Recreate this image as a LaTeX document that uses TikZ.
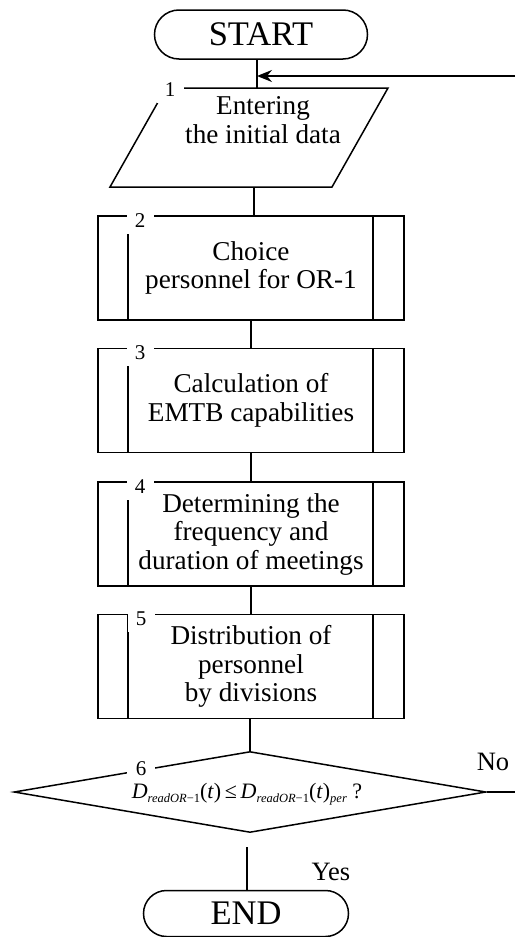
\documentclass[tikz,border=0pt]{standalone}
\usepackage{fontspec}
\setmainfont{Liberation Serif}
\usetikzlibrary{shapes.misc,shapes.geometric,arrows.meta}
\newcommand\mysub[1]{\raisebox{-4.5pt}{\fontsize{12.5}{12.5}\selectfont #1}}
\begin{document}
\begin{tikzpicture}[x=1pt,y=-1pt, line width=1.5pt,
  term/.style={rounded rectangle, draw, minimum width=213pt, minimum height=49pt,
    font=\fontsize{34.5}{36}\selectfont, inner sep=0pt, outer sep=0pt},
  body/.style={font=\fontsize{27.2}{28.5}\selectfont, align=center},
  proc/.style={rectangle, draw, minimum width=306pt, minimum height=104pt,
    inner sep=0pt, outer sep=0pt, body},
  num/.style={fill=white, font=\fontsize{21}{21}\selectfont, inner sep=0pt,
    minimum width=27pt, minimum height=26pt},
  lbl/.style={font=\fontsize{26.5}{28}\selectfont, inner sep=0pt}]
\useasboundingbox (0,0) rectangle (515,937);

% START
\node[term] (start) at (261,34.5) {START};
\coordinate (j1) at (257,76);
\coordinate (p1top) at (257,88);
\draw (j1 |- start.south) -- (p1top);
\coordinate (loopR) at (515,76);
\draw[-{Stealth[length=15pt,width=12pt,inset=5pt]}] (loopR) -- (j1);

% 1: parallelogram
\coordinate (pa) at (166,88);
\coordinate (pb) at (388,88);
\coordinate (pc) at (332,187);
\coordinate (pd) at (110,187);
\draw (pa) -- (pb) -- (pc) -- (pd) -- cycle;
\node[body] (p1) at (263,120) {Entering\\the initial data};
\node[num] (n1) at (170,90) {1};
\coordinate (p1bot) at (254,187);

% processes
\node[proc] (b2) at (251,268) {Choice\\personnel for OR-1};
\node[proc] (b3) at (251,400.5) {Calculation of\\EMTB capabilities};
\node[proc] (b4) at (251,534) {Determining the\\frequency and\\duration of meetings};
\node[proc] (b5) at (251,666.5) {Distribution of\\personnel\\by divisions};
\foreach \b in {b2,b3,b4,b5}{
  \draw ([xshift=30pt]\b.north west) -- ([xshift=30pt]\b.south west);
  \draw ([xshift=-31pt]\b.north east) -- ([xshift=-31pt]\b.south east);
}
\node[num] (n2) at (140,221) {2};
\node[num] (n3) at (140,353) {3};
\node[num] (n4) at (140,487) {4};
\node[num] (n5) at (141,619) {5};

\draw (p1bot) -- (p1bot |- b2.north);
\draw (b2.south) -- (b3.north);
\draw (b3.south) -- (b4.north);
\draw (b4.south) -- (b5.north);

% 6: decision
\node[diamond, draw, minimum width=472pt, minimum height=81pt, inner sep=0pt] (d6) at (250,792) {};
\draw (d6.north |- b5.south) -- (d6.north);
\node[num, minimum width=28pt, minimum height=16pt] (n6) at (141,768.5) {6};
\node[font=\fontsize{22}{24}\selectfont, inner sep=0pt, anchor=base] (f6) at (247,798)
  {\textit{D}\mysub{\textit{readOR}−1}(\textit{t})\,≤\,\textit{D}\mysub{\textit{readOR}−1}(\textit{t})\mysub{\textit{per}}\ ?};
\node[lbl] (no) at (493,762) {No};
\coordinate (noR) at (515,792);
\draw (d6.east) -- (noR);

% END
\node[term, minimum width=205pt, minimum height=46pt] (end) at (246,913.5) {END};
\coordinate (yTop) at (247,847);
\draw (yTop) -- (yTop |- end.north);
\node[lbl] (yes) at (331,872) {Yes};
\end{tikzpicture}
\end{document}
